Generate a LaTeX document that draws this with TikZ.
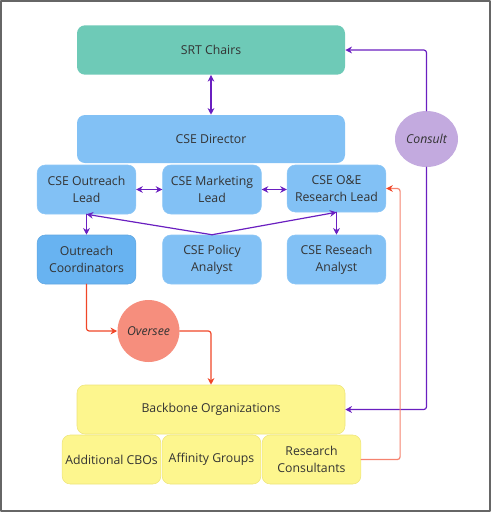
\documentclass[tikz,border=0pt]{standalone}
\usepackage{fontspec}
\setmainfont{Open Sans}
\usetikzlibrary{arrows.meta,shapes.geometric}
\definecolor{srtteal}{HTML}{6ECAB7}
\definecolor{cseblue}{HTML}{82C1F5}
\definecolor{coordblue}{HTML}{68B3F1}
\definecolor{bbyellow}{HTML}{FDF68E}
\definecolor{bbedge}{HTML}{EDE47A}
\definecolor{consultpurple}{HTML}{C3AADF}
\definecolor{overseesalmon}{HTML}{F68E7D}
\definecolor{linkpurple}{HTML}{6A1FC0}
\definecolor{linkred}{HTML}{F04628}
\definecolor{linksalmon}{HTML}{F5836F}
\definecolor{textgray}{HTML}{333333}
\begin{document}
\begin{tikzpicture}[
	x=0.75pt,y=-0.75pt,
	>={Stealth[length=5pt,width=5pt]},
	line cap=round,
	line join=round,
	font=\fontsize{9.2}{12.75}\selectfont,
	text=textgray,
	box/.style={rounded corners=6pt,inner sep=0pt,align=center},
	bigbox/.style={box,minimum width=201pt,minimum height=37pt},
	smallbox/.style={box,minimum width=74pt,minimum height=36.75pt},
	bluebox/.style={smallbox,fill=cseblue,draw=cseblue!90!white},
	yellowbox/.style={smallbox,fill=bbyellow,draw=bbedge,line width=0.4pt},
	purplelink/.style={draw=linkpurple,line width=0.9pt},
	redlink/.style={draw=linkred,line width=0.9pt},
	bubble/.style={ellipse,inner sep=0pt,font=\fontsize{9.2}{11}\selectfont\itshape}
	]
	\useasboundingbox (0,0) rectangle (491,512);
	\draw[line width=1.2pt,draw=gray!80!black] (0.8,0.8) rectangle (490.2,511.2);
	% top of the chart
	\node[bigbox,fill=srtteal] (srt) at (211,50) {SRT Chairs};
	\node[bigbox,fill=cseblue,minimum height=36pt] (director) at (211,139) {CSE Director};
	% leads
	\node[bluebox] (outlead) at (86.5,189.5) {CSE Outreach\\Lead};
	\node[bluebox] (mktlead) at (212,189.5) {CSE Marketing\\Lead};
	\node[bluebox,minimum height=35.25pt] (oelead) at (336.5,188.5) {CSE O\&E\\Research Lead};
	% staff
	\node[bluebox,fill=coordblue,draw=coordblue!93!black,line width=0.4pt] (coord) at (86.5,259.5) {Outreach\\Coordinators};
	\node[bluebox] (policy) at (212,259.5) {CSE Policy\\Analyst};
	\node[bluebox] (resanalyst) at (336.5,259.5) {CSE Reseach\\Analyst};
	% bubbles
	\node[bubble,fill=consultpurple,minimum width=47.25pt,minimum height=42pt] (consult) at (426.5,139) {Consult};
	\node[bubble,fill=overseesalmon,minimum width=46.5pt,minimum height=46.5pt] (oversee) at (148.5,331) {Oversee};
	% backbone
	\node[bigbox,fill=bbyellow,draw=bbedge,line width=0.4pt,minimum height=36.75pt] (backbone) at (211,409.5) {Backbone Organizations};
	\node[yellowbox] (cbos) at (111.5,459.5) {Additional CBOs};
	\node[yellowbox] (affinity) at (211.5,459.5) {Affinity Groups};
	\node[yellowbox] (consultants) at (311.5,459.5) {Research\\Consultants};
	\begin{scope}[purplelink]
		\draw[<->] (srt) -- (director);
		\draw[<->] (outlead) -- (mktlead);
		\draw[<->] (mktlead.east) -- (mktlead.east -| oelead.west);
		\draw[->] (policy.north) -- (outlead.south);
		\draw[->] (policy.north) -- (oelead.south);
		\draw[->] (outlead.south) -- (coord.north);
		\draw[->] (oelead.south) -- (resanalyst.north);
		\draw[->,rounded corners=2pt] (consult.north) |- (srt.east);
		\draw[->,rounded corners=2pt] (consult.south) |- (backbone.east);
	\end{scope}
	\begin{scope}[redlink]
		\draw[->,rounded corners=2pt] (coord.south) |- (oversee.west);
		\draw[->,rounded corners=2pt] (oversee.east) -| (backbone.north);
		\draw[draw=linksalmon,-{Stealth[length=5pt,width=5pt,color=linkred]},rounded corners=2pt] (consultants.east) -- ++(39,0) |- (oelead.east);
	\end{scope}
\end{tikzpicture}
\end{document}
